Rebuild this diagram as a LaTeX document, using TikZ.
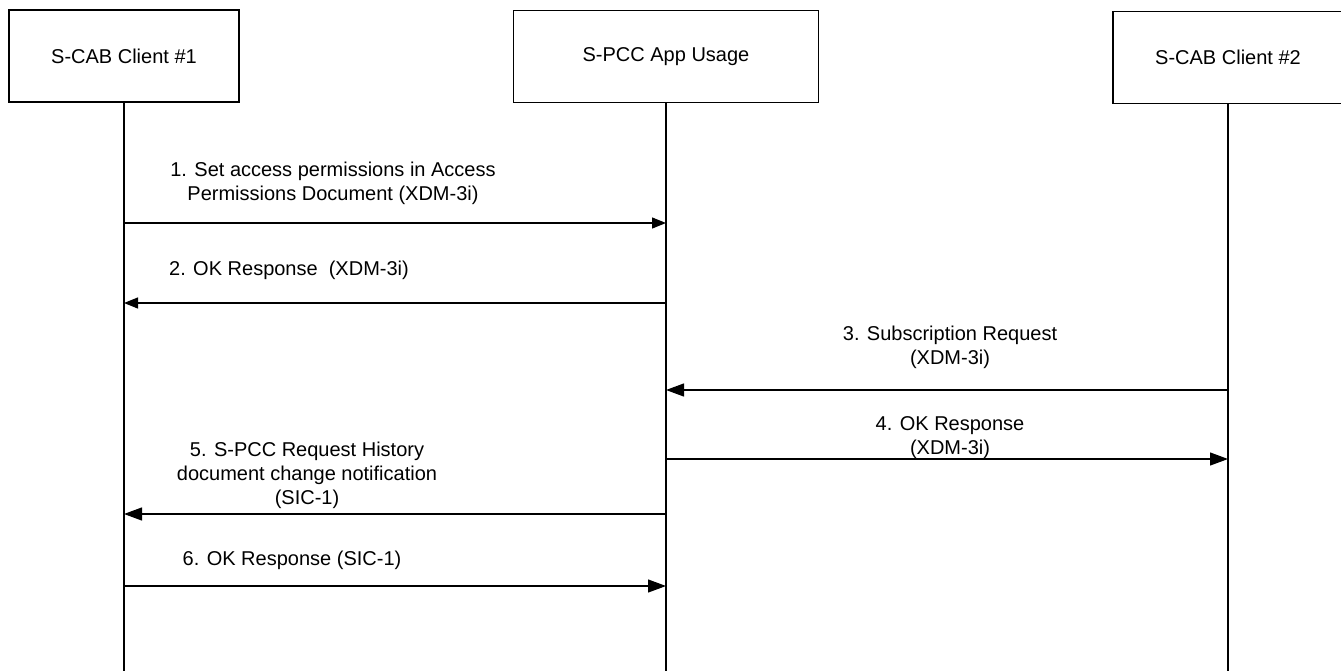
\documentclass[tikz,border=0pt]{standalone}
\usepackage{fontspec}
\setmainfont{Liberation Sans}
\usetikzlibrary{arrows.meta}
\begin{document}
\begin{tikzpicture}[x=0.75pt, y=-0.75pt, font=\fontsize{15}{18}\selectfont, line width=0.9pt]
                    \useasboundingbox (0,0) rectangle (1341,671);
                    \tikzset{entity/.style={draw, minimum height=69pt, inner sep=0pt},
                             msg/.style={-{Triangle[length=10.5pt,width=8.25pt]}},
                             msgb/.style={-{Triangle[length=13.5pt,width=9.75pt]}},
                             lbl/.style={align=center, inner sep=0pt}}
                    \node[entity, minimum width=172.5pt] (c1) at (124,56) {S-CAB Client \#1};
                    \node[entity, minimum width=228.75pt] (app) at (666,56.5) {S-PCC App Usage};
                    \node[entity, minimum width=172.5pt] (c2) at (1228,57.5) {S-CAB Client \#2};
                    \foreach \n in {c1,app,c2}
                    \draw (\n.south) -- (\n.south |- 0,671);
                    \foreach \y/\a/\b/\s in {223/c1/app/msg, 303/app/c1/msg, 390/c2/app/msgb, 459/app/c2/msgb, 514/app/c1/msgb, 586/c1/app/msgb}
                    \draw[\s] (\a.south |- 0,\y) -- (\b.south |- 0,\y);
                    \node[lbl] (l1) at (333,183) {1. Set access permissions in Access\\Permissions Document (XDM-3i)};
                    \node[lbl] (l2) at (289,270) {2. OK Response\ \ (XDM-3i)};
                    \node[lbl] (l3) at (950,347) {3. Subscription Request\\(XDM-3i)};
                    \node[lbl] (l4) at (950,438) {4. OK Response\\(XDM-3i)};
                    \node[lbl] (l5) at (307,475) {5. S-PCC Request History\\document change notification\\(SIC-1)};
                    \node[lbl] (l6) at (292,560) {6. OK Response (SIC-1)};
            \end{tikzpicture}
\end{document}
